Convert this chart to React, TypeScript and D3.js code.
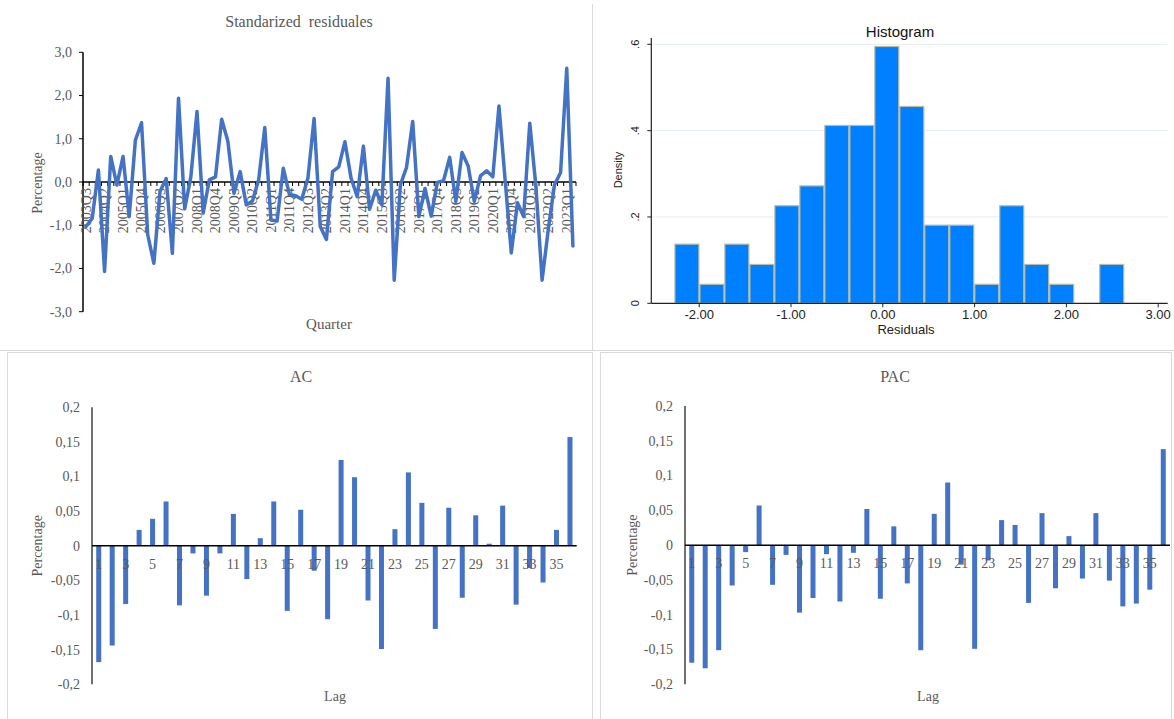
import React from "react";
import * as d3 from "d3";

// ---------- DATA ----------
// Standardized residuals, 2003Q3 .. 2023Q2 (80 quarters)
const residuals: number[] = [
  -1.03, -0.84, 0.28, -2.07, 0.59, -0.07, 0.59, -0.8, 0.97, 1.37,
  -1.22, -1.88, -0.22, 0.08, -1.65, 1.94, -0.62, 0.12, 1.63, -0.72,
  0.05, 0.12, 1.45, 0.95, -0.26, 0.24, -0.53, -0.44, 0.05, 1.26,
  -0.88, -0.9, 0.32, -0.29, -0.32, -0.4, 0.09, 1.47, -1.03, -1.33,
  0.24, 0.35, 0.93, 0.09, -0.34, 0.83, -0.63, -0.19, -0.53, 2.4,
  -2.27, -0.07, 0.34, 1.4, -0.8, -0.15, -0.79, -0.01, 0.03, 0.57,
  -0.45, 0.68, 0.37, -0.45, 0.14, 0.26, 0.12, 1.76, 0.05, -1.64,
  -0.48, -0.8, 1.36, -0.11, -2.27, -1.1, -0.07, 0.22, 2.63, -1.48,
];
const quarters: string[] = residuals.map((_, i) => {
  const t = 2003 * 4 + 2 + i;
  return `${Math.floor(t / 4)}Q${(t % 4) + 1}`;
});
const quarterTickLabels: string[] = [
  "2003Q3", "2004Q2", "2005Q1", "2005Q4", "2006Q3", "2007Q2", "2008Q1", "2008Q4", "2009Q3",
  "2010Q2", "2011Q1", "2011Q4", "2012Q3", "2013Q2", "2014Q1", "2014Q4", "2015Q3", "2016Q2",
  "2017Q1", "2017Q4", "2018Q3", "2019Q2", "2020Q1", "2020Q4", "2021Q3", "2022Q2", "2023Q1",
];
const residualTicks: number[] = [-3, -2, -1, 0, 1, 2, 3];

// Histogram
const histStart = -2.27;
const histBinWidth = 0.2722;
const histDensity: number[] = [
  0.137, 0.044, 0.137, 0.09, 0.226, 0.272, 0.412, 0.412, 0.595,
  0.456, 0.181, 0.181, 0.044, 0.226, 0.09, 0.044, 0, 0.09,
];
const histXTicks: number[] = [-2, -1, 0, 1, 2, 3];
const histYTicks: number[] = [0, 0.2, 0.4, 0.6];
const histYTickLabels: string[] = ["0", ".2", ".4", ".6"];

// Correlograms
const lags: number[] = d3.range(1, 37);
const acValues: number[] = [
  -0.168, -0.144, -0.084, 0.023, 0.039, 0.064, -0.086, -0.011, -0.072, -0.011,
  0.046, -0.048, 0.011, 0.064, -0.094, 0.052, -0.036, -0.106, 0.124, 0.099,
  -0.079, -0.149, 0.024, 0.106, 0.062, -0.12, 0.055, -0.075, 0.044, 0.003,
  0.058, -0.085, -0.032, -0.053, 0.023, 0.157,
];
const pacValues: number[] = [
  -0.169, -0.177, -0.151, -0.058, -0.01, 0.057, -0.057, -0.014, -0.097, -0.076,
  -0.013, -0.081, -0.011, 0.052, -0.077, 0.027, -0.055, -0.151, 0.045, 0.09,
  -0.028, -0.149, -0.022, 0.036, 0.029, -0.083, 0.046, -0.062, 0.013, -0.048,
  0.046, -0.051, -0.088, -0.084, -0.064, 0.138,
];
const corrTicks: number[] = [-0.2, -0.15, -0.1, -0.05, 0, 0.05, 0.1, 0.15, 0.2];
const corrTickLabels: string[] = ["-0,2", "-0,15", "-0,1", "-0,05", "0", "0,05", "0,1", "0,15", "0,2"];

// ---------- STYLE ----------
const SERIF = "'Liberation Serif', 'Times New Roman', serif";
const SANS = "'Liberation Sans', Arial, sans-serif";
const GRAY = "#595959";
const BLUE = "#4472c4";
const BORDER = "#d9d9d9";

const hyphen = (s: string) => s.replace(/\u2212/g, "-");

function ResidualPanel() {
  const left = 83, right = 576, top = 52.3, bottom = 311.7;
  const y = d3.scaleLinear().domain([-3, 3]).range([bottom, top]);
  const x = d3.scaleBand<string>().domain(quarters).range([left, right]);
  const cx = (q: string) => (x(q) as number) + x.bandwidth() / 2;
  const path = d3
    .line<number>()
    .x((_, i) => cx(quarters[i]))
    .y((d) => y(d))(residuals) as string;
  const y0 = y(0);
  return (
    <g>
      <text x={299} y={27} textAnchor="middle" fontFamily={SERIF} fontSize={16} fill={GRAY} style={{ whiteSpace: "pre" }}>
        {"Standarized  residuales"}
      </text>
      {residualTicks.map((t) => (
        <g key={t}>
          <line x1={left - 4} x2={left} y1={y(t)} y2={y(t)} stroke="#000" strokeWidth={1} />
          <text x={left - 11} y={y(t)} dy="0.35em" textAnchor="end" fontFamily={SERIF} fontSize={14} fill={GRAY}>
            {hyphen(d3.format(".1f")(t)).replace(".", ",")}
          </text>
        </g>
      ))}
      <line x1={left} x2={left} y1={top} y2={bottom} stroke="#000" strokeWidth={1.5} />
      {quarterTickLabels.map((q) => (
        <text
          key={q}
          transform={`translate(${cx(q)},${y0 + 6}) rotate(-90)`}
          dy="0.35em"
          textAnchor="end"
          fontFamily={SERIF}
          fontSize={14}
          fill={GRAY}
        >
          {q}
        </text>
      ))}
      {quarters.map((q) => (
        <line key={q} x1={x(q) as number} x2={x(q) as number} y1={y0} y2={y0 + 4} stroke="#000" strokeWidth={1} />
      ))}
      <line x1={right} x2={right} y1={y0} y2={y0 + 4} stroke="#000" strokeWidth={1} />
      <line x1={left} x2={right} y1={y0} y2={y0} stroke="#000" strokeWidth={1.5} />
      <path d={path} fill="none" stroke={BLUE} strokeWidth={3.5} strokeLinejoin="round" strokeLinecap="round" />
      <text transform={`translate(37,183) rotate(-90)`} dy="0.35em" textAnchor="middle" fontFamily={SERIF} fontSize={14} fill={GRAY}>
        Percentage
      </text>
      <text x={329} y={329} textAnchor="middle" fontFamily={SERIF} fontSize={15} fill={GRAY}>
        Quarter
      </text>
    </g>
  );
}

function HistogramPanel() {
  const axisX = 651.3, endX = 1167.7;
  const x = d3.scaleLinear().domain([0, 1]).range([882.8, 974.6]);
  const y = d3.scaleLinear().domain([0, 0.6]).range([303.3, 44.3]);
  const bins = histDensity.map((d, i) => ({
    x0: histStart + i * histBinWidth,
    x1: histStart + (i + 1) * histBinWidth,
    d,
  }));
  return (
    <g>
      <text x={900} y={37} textAnchor="middle" fontFamily={SANS} fontSize={15} fill="#111">
        Histogram
      </text>
      {histYTicks.slice(1).map((t) => (
        <line key={t} x1={axisX} x2={endX} y1={y(t)} y2={y(t)} stroke="#e4eef0" strokeWidth={1} />
      ))}
      {bins
        .filter((b) => b.d > 0)
        .map((b, i) => (
          <rect
            key={i}
            x={x(b.x0) + 0.5}
            y={y(b.d)}
            width={x(b.x1) - x(b.x0) - 1}
            height={y(0) - y(b.d)}
            fill="#0080ff"
            stroke="#bcbb9c"
            strokeWidth={1.2}
          />
        ))}
      <line x1={axisX} x2={axisX} y1={38} y2={y(0)} stroke="#222" strokeWidth={1.2} />
      <line x1={axisX} x2={endX} y1={y(0)} y2={y(0)} stroke="#222" strokeWidth={1.2} />
      {histYTicks.map((t, i) => (
        <g key={t}>
          <line x1={axisX - 4} x2={axisX} y1={y(t)} y2={y(t)} stroke="#222" strokeWidth={1} />
          <text
            transform={`translate(635,${y(t)}) rotate(-90)`}
            dy="0.35em"
            textAnchor="middle"
            fontFamily={SANS}
            fontSize={11}
            fill="#222"
          >
            {histYTickLabels[i]}
          </text>
        </g>
      ))}
      {histXTicks.map((t) => (
        <g key={t}>
          <line x1={x(t)} x2={x(t)} y1={y(0)} y2={y(0) + 4} stroke="#222" strokeWidth={1} />
          <text x={x(t)} y={y(0) + 16} textAnchor="middle" fontFamily={SANS} fontSize={13} fill="#222">
            {hyphen(d3.format(".2f")(t))}
          </text>
        </g>
      ))}
      <text x={906} y={334} textAnchor="middle" fontFamily={SANS} fontSize={13} fill="#222">
        Residuals
      </text>
      <text transform={`translate(618,170) rotate(-90)`} dy="0.35em" textAnchor="middle" fontFamily={SANS} fontSize={11} fill="#222">
        Density
      </text>
    </g>
  );
}

function CorrPanel(props: {
  values: number[];
  axisX: number;
  endX: number;
  yTop: number;
  yBottom: number;
  title: string;
  titleX: number;
  lagX: number;
  ylabX: number;
}) {
  const { values, axisX, endX, yTop, yBottom, title, titleX, lagX, ylabX } = props;
  const y = d3.scaleLinear().domain([-0.2, 0.2]).range([yBottom, yTop]);
  const x = d3.scaleBand<number>().domain(lags).range([axisX, endX]);
  const y0 = y(0);
  const barW = 5;
  return (
    <g>
      <text x={titleX} y={382} textAnchor="middle" fontFamily={SERIF} fontSize={16} fill={GRAY}>
        {title}
      </text>
      {corrTicks.map((t, i) => (
        <text key={t} x={axisX - 12} y={y(t)} dy="0.35em" textAnchor="end" fontFamily={SERIF} fontSize={14} fill={GRAY}>
          {corrTickLabels[i]}
        </text>
      ))}
      {values.map((v, i) => {
        const cx = (x(lags[i]) as number) + x.bandwidth() / 2;
        return (
          <rect
            key={i}
            x={cx - barW / 2}
            y={Math.min(y(v), y0)}
            width={barW}
            height={Math.abs(y(v) - y0)}
            fill={BLUE}
          />
        );
      })}
      <line x1={axisX} x2={axisX} y1={yTop} y2={yBottom} stroke="#404040" strokeWidth={1.5} />
      <line x1={axisX} x2={endX} y1={y0} y2={y0} stroke="#000" strokeWidth={1.5} />
      {lags
        .filter((l) => l % 2 === 1)
        .map((l) => (
          <text
            key={l}
            x={(x(l) as number) + x.bandwidth() / 2}
            y={y0 + 18}
            dy="0.35em"
            textAnchor="middle"
            fontFamily={SERIF}
            fontSize={14}
            fill={GRAY}
          >
            {l}
          </text>
        ))}
      <text
        transform={`translate(${ylabX},${(yTop + yBottom) / 2}) rotate(-90)`}
        dy="0.35em"
        textAnchor="middle"
        fontFamily={SERIF}
        fontSize={14}
        fill={GRAY}
      >
        Percentage
      </text>
      <text x={lagX} y={701} textAnchor="middle" fontFamily={SERIF} fontSize={14} fill={GRAY}>
        Lag
      </text>
    </g>
  );
}

export default function App() {
  return (
    <svg
      width={1174}
      height={719}
      viewBox="0 0 1174 719"
      style={{ position: "absolute", left: 0, top: 0, background: "#fff" }}
    >
      <rect x={0} y={0} width={1174} height={719} fill="#fff" />
      {/* panel borders */}
      <line x1={592.5} x2={592.5} y1={4} y2={350} stroke={BORDER} strokeWidth={1} />
      <line x1={0} x2={1174} y1={350.5} y2={350.5} stroke={BORDER} strokeWidth={1} />
      <rect x={7.5} y={352.5} width={585} height={370} fill="none" stroke={BORDER} strokeWidth={1} />
      <rect x={600.5} y={352.5} width={571} height={370} fill="none" stroke={BORDER} strokeWidth={1} />
      <ResidualPanel />
      <HistogramPanel />
      <CorrPanel
        values={acValues}
        axisX={92}
        endX={576.7}
        yTop={407.3}
        yBottom={684.3}
        title="AC"
        titleX={301}
        lagX={335}
        ylabX={37}
      />
      <CorrPanel
        values={pacValues}
        axisX={685}
        endX={1170}
        yTop={406}
        yBottom={684.3}
        title="PAC"
        titleX={895}
        lagX={928}
        ylabX={632}
      />
    </svg>
  );
}
